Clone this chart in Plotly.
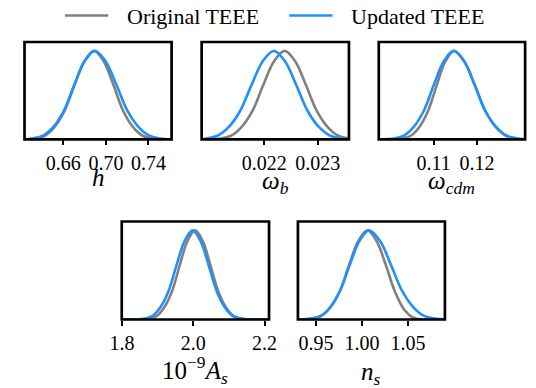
import plotly.graph_objects as go

# ---------------- data: marginal posteriors (peak-normalised) ----------------
H_X_ORIG = [0.6235, 0.6332, 0.6425, 0.6518, 0.6611, 0.6704, 0.6797, 0.6890,
            0.6981, 0.7072, 0.7163, 0.7254, 0.7345, 0.7436, 0.7527, 0.7618]
H_Y_ORIG = [0.00, 0.01, 0.04, 0.14, 0.32, 0.61, 0.88, 1.00,
            0.88, 0.61, 0.32, 0.14, 0.04, 0.01, 0.00, 0]
H_X_UPD = [0.6235, 0.6311, 0.64085, 0.6506, 0.66035, 0.6701, 0.67985, 0.6896,
           0.69985, 0.7101, 0.72035, 0.7306, 0.74085, 0.7511, 0.7618]
H_Y_UPD = [0.00, 0.01, 0.04, 0.14, 0.32, 0.61, 0.88, 1.00,
           0.88, 0.61, 0.32, 0.14, 0.04, 0.01, 0.00]

WB_X_ORIG = [0.020833, 0.02098, 0.02118, 0.02138, 0.02158, 0.02178, 0.02198, 0.02218,
             0.02238, 0.02258, 0.02278, 0.02298, 0.02318, 0.02338, 0.02358]
WB_Y_ORIG = [0, 0.00, 0.01, 0.04, 0.14, 0.32, 0.61, 0.88,
             1.00, 0.88, 0.61, 0.32, 0.14, 0.04, 0.01]
WB_X_UPD = [0.020833, 0.02092, 0.02113, 0.02134, 0.02155, 0.02176, 0.02197, 0.02218,
            0.02239, 0.02260, 0.02281, 0.02302, 0.02323, 0.02344, 0.02358]
WB_Y_UPD = [0.00, 0.01, 0.04, 0.14, 0.32, 0.61, 0.88, 1.00,
            0.88, 0.61, 0.32, 0.14, 0.04, 0.01, 0.00]

WC_X_ORIG = [0.09733, 0.1007, 0.1027, 0.1047, 0.1067, 0.1087, 0.1107, 0.1127, 0.1147,
             0.1171, 0.1195, 0.1219, 0.1243, 0.1267, 0.1291, 0.1311]
WC_Y_ORIG = [0, 0.00, 0.01, 0.04, 0.14, 0.32, 0.61, 0.88, 1.00,
             0.88, 0.61, 0.32, 0.14, 0.04, 0.01, 0.00]
WC_X_UPD = [0.09733, 0.0985, 0.1008, 0.1031, 0.1054, 0.1077, 0.1100, 0.1123, 0.1146,
            0.11705, 0.1195, 0.12195, 0.1244, 0.12685, 0.1293, 0.1311]
WC_Y_UPD = [0, 0.00, 0.01, 0.04, 0.14, 0.32, 0.61, 0.88, 1.00,
            0.88, 0.61, 0.32, 0.14, 0.04, 0.01, 0.00]

AS_X_ORIG = [1.799, 1.8545, 1.876, 1.8975, 1.919, 1.9405, 1.962, 1.9835, 2.005,
             2.0265, 2.048, 2.0695, 2.091, 2.1125, 2.134, 2.1555, 2.2127]
AS_Y_ORIG = [0, 0.00, 0.01, 0.04, 0.14, 0.32, 0.61, 0.88, 1.00,
             0.88, 0.61, 0.32, 0.14, 0.04, 0.01, 0.00, 0]
AS_X_UPD = [1.799, 1.8405, 1.863, 1.8855, 1.908, 1.9305, 1.953, 1.9755, 1.998,
            2.0205, 2.043, 2.0655, 2.088, 2.1105, 2.133, 2.1555, 2.2127]
AS_Y_UPD = [0, 0.00, 0.01, 0.04, 0.14, 0.32, 0.61, 0.88, 1.00,
            0.88, 0.61, 0.32, 0.14, 0.04, 0.01, 0.00, 0]

NS_X_ORIG = [0.93044, 0.936, 0.946, 0.956, 0.966, 0.976, 0.986, 0.996, 1.006,
             1.016, 1.026, 1.036, 1.046, 1.056, 1.066, 1.076, 1.0902]
NS_Y_ORIG = [0, 0.00, 0.01, 0.04, 0.14, 0.32, 0.61, 0.88, 1.00,
             0.88, 0.61, 0.31, 0.11, 0.02, 0.00, 0.00, 0]
NS_X_UPD = [0.93044, 0.9342, 0.9447, 0.9552, 0.9657, 0.9762, 0.9867, 0.9972, 1.0077,
            1.0197, 1.0317, 1.0437, 1.0557, 1.0677, 1.0797, 1.0902]
NS_Y_UPD = [0, 0.00, 0.01, 0.04, 0.14, 0.32, 0.61, 0.88, 1.00,
            0.88, 0.61, 0.32, 0.14, 0.04, 0.01, 0.00]

# tick values / labels per parameter
H_TICKS = [0.66, 0.70, 0.74]
H_TICKTEXT = ["0.66", "0.70", "0.74"]
WB_TICKS = [0.022, 0.023]
WB_TICKTEXT = ["0.022", "0.023"]
WC_TICKS = [0.11, 0.12]
WC_TICKTEXT = ["0.11", "0.12"]
AS_TICKS = [1.8, 2.0, 2.2]
AS_TICKTEXT = ["1.8", "2.0", "2.2"]
NS_TICKS = [0.95, 1.00, 1.05]
NS_TICKTEXT = ["0.95", "1.00", "1.05"]

SERIES_NAMES = ["Original TEEE", "Updated TEEE"]
PARAM_LABELS = ["<i>h</i>",
                "<i>ω</i><sub><i>b</i></sub>",
                "<i>ω</i><sub><i>cdm</i></sub>",
                "10<sup>−9</sup><i>A</i><sub><i>s</i></sub>",
                "<i>n</i><sub><i>s</i></sub>"]

# ---------------- layout ----------------
W, H = 536, 388
GRAY = "#808080"
BLUE = "#1E90FF"
FONT = "Liberation Serif, Times New Roman, DejaVu Serif, serif"


def px_x(v):
    return v / W


def px_y(v):
    return 1 - v / H


# panel frames in pixels: (left, right, top, bottom)
panels = [
    (13.0, 165.8, 42.0, 139.3),
    (197.0, 350.0, 42.0, 139.3),
    (381.0, 533.0, 42.0, 139.3),
    (114.0, 267.0, 221.5, 319.5),
    (297.0, 449.7, 221.5, 319.5),
]
# vertical centre (pixels from top) of each parameter label
label_centres = [177.5, 182.0, 182.0, 370.0, 373.5]
xranges = [
    (0.6235, 0.7618),
    (0.020833, 0.02358),
    (0.09733, 0.1311),
    (1.799, 2.2127),
    (0.93044, 1.0902),
]
curves = [
    (H_X_ORIG, H_Y_ORIG, H_X_UPD, H_Y_UPD),
    (WB_X_ORIG, WB_Y_ORIG, WB_X_UPD, WB_Y_UPD),
    (WC_X_ORIG, WC_Y_ORIG, WC_X_UPD, WC_Y_UPD),
    (AS_X_ORIG, AS_Y_ORIG, AS_X_UPD, AS_Y_UPD),
    (NS_X_ORIG, NS_Y_ORIG, NS_X_UPD, NS_Y_UPD),
]
ticks = [
    (H_TICKS, H_TICKTEXT),
    (WB_TICKS, WB_TICKTEXT),
    (WC_TICKS, WC_TICKTEXT),
    (AS_TICKS, AS_TICKTEXT),
    (NS_TICKS, NS_TICKTEXT),
]

fig = go.Figure()
shapes = []
annotations = []
layout = {}

for i, ((l, r, t, b), xr, (xo, yo, xu, yu), (tv, tt), lab, ly) in enumerate(
        zip(panels, xranges, curves, ticks, PARAM_LABELS, label_centres)):
    n = "" if i == 0 else str(i + 1)
    xa, ya = "x" + n, "y" + n
    for xs, ys, col in ((xo, yo, GRAY), (xu, yu, BLUE)):
        fig.add_trace(go.Scatter(
            x=xs, y=ys, xaxis=xa, yaxis=ya, mode="lines",
            line=dict(color=col, width=2.6, shape="spline", smoothing=1.0),
            showlegend=False, hoverinfo="skip"))
    layout["xaxis" + n] = dict(
        domain=[px_x(l), px_x(r)], range=list(xr), anchor=ya,
        tickmode="array", tickvals=tv, ticktext=tt,
        ticks="outside", ticklen=5, tickwidth=1.5, tickcolor="black",
        showgrid=False, zeroline=False, showline=False,
        tickfont=dict(family=FONT, size=20, color="black"),
        ticklabelstandoff=1 if i < 3 else 0,
        fixedrange=True)
    layout["yaxis" + n] = dict(
        domain=[px_y(b), px_y(t)], range=[0, 1.1], anchor=xa,
        showticklabels=False, ticks="", showgrid=False, zeroline=False,
        showline=False, fixedrange=True)
    shapes.append(dict(
        type="rect", xref=xa + " domain", yref=ya + " domain",
        x0=0, x1=1, y0=0, y1=1, line=dict(color="black", width=2.7),
        layer="above"))
    annotations.append(dict(
        text=lab, xref="paper", yref="paper", x=px_x((l + r) / 2), y=px_y(ly),
        xanchor="center", yanchor="middle", showarrow=False,
        font=dict(family=FONT, size=25, color="black")))

# legend drawn as line samples + labels across the top
legend_items = [(55, 100, 117, GRAY), (288, 333, 350, BLUE)]
for (x0, x1, tx, col), name in zip(legend_items, SERIES_NAMES):
    shapes.append(dict(type="line", xref="paper", yref="paper",
                       x0=px_x(x0), x1=px_x(x1), y0=px_y(15.5), y1=px_y(15.5),
                       line=dict(color=col, width=2.6)))
    annotations.append(dict(
        text=name, xref="paper", yref="paper", x=px_x(tx), y=px_y(16.5),
        xanchor="left", yanchor="middle", showarrow=False,
        font=dict(family=FONT, size=22, color="black")))

fig.update_layout(
    width=W, height=H, margin=dict(l=0, r=0, t=0, b=0),
    paper_bgcolor="white", plot_bgcolor="white",
    font=dict(family=FONT),
    shapes=shapes, annotations=annotations, **layout)

fig.write_html("out.html")
